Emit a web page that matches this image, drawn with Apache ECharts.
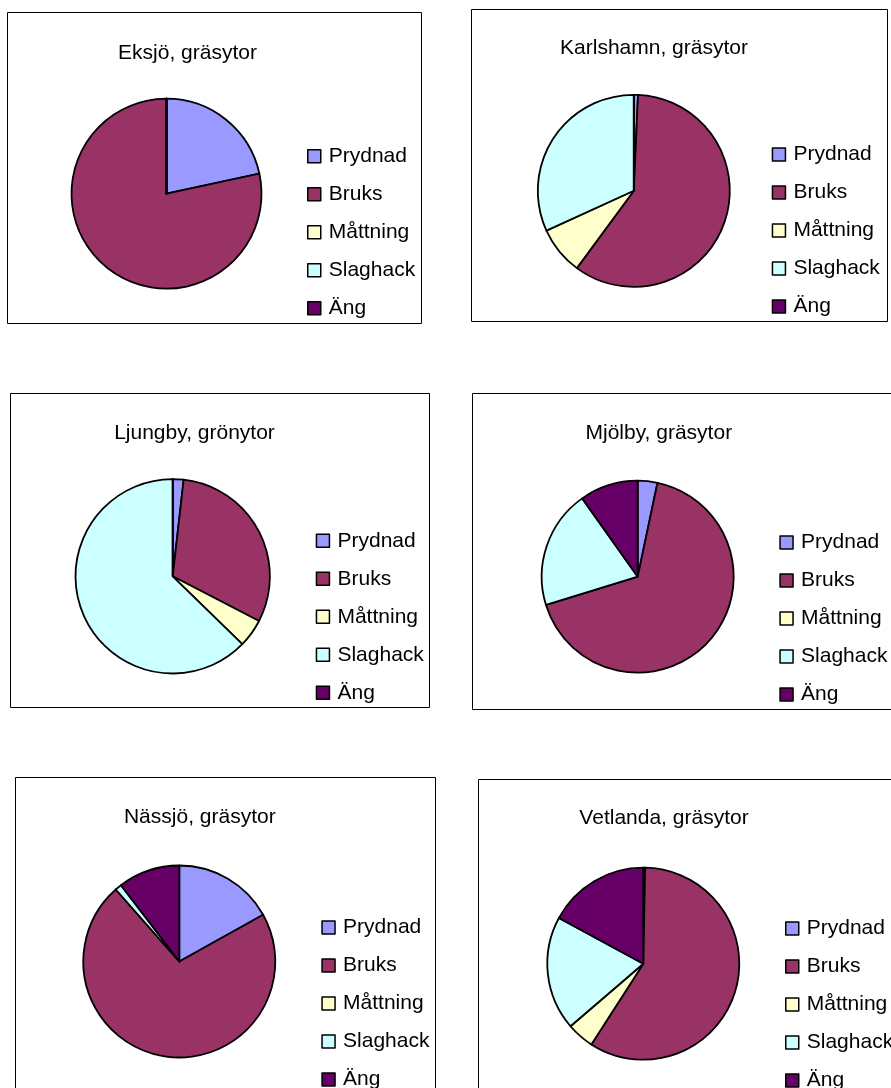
<!DOCTYPE html>
<html>
<head>
<meta charset="utf-8">
<script src="https://cdn.jsdelivr.net/npm/echarts@6/dist/echarts.min.js"></script>
<style>
  html, body { margin: 0; padding: 0; background: #fff; }
  #chart { width: 891px; height: 1088px; }
</style>
</head>
<body>
<div id="chart"></div>
<script>
// Shared categories and palette for all six municipality pies
const categories = ['Prydnad', 'Bruks', 'Måttning', 'Slaghack', 'Äng'];
const palette = ['#9999FF', '#993366', '#FFFFCC', '#CCFFFF', '#660066'];

const chartTitles = [
  'Eksjö, gräsytor',
  'Karlshamn, gräsytor',
  'Ljungby, grönytor',
  'Mjölby, gräsytor',
  'Nässjö, gräsytor',
  'Vetlanda, gräsytor'
];

// Share of grass area per category (%)
const eksjo     = [21.6, 78.4, 0,   0,    0];
const karlshamn = [0.7,  59.4, 8.1, 31.8, 0];
const ljungby   = [1.8,  30.8, 4.7, 62.7, 0];
const mjolby    = [3.3,  66.9, 0,   19.9, 9.8];
const nassjo    = [16.9, 71.6, 0,   1.1,  10.4];
const vetlanda  = [0.3,  58.8, 4.6, 19.2, 17.1];

const townValues = [eksjo, karlshamn, ljungby, mjolby, nassjo, vetlanda];

// Panel layout: frame, pie centre/radius, title anchor, legend anchor
const panels = [
  { box: [7.5, 12.5, 414, 311],   center: [166.5, 193.7], r: 95,   title: [187.5, 59.3],  legend: [307, 156.2] },
  { box: [471.5, 9.5, 416, 312],  center: [633.8, 190.8], r: 96,   title: [654, 55],      legend: [771.7, 154.5] },
  { box: [10.5, 393.5, 419, 314], center: [172.7, 576.3], r: 97.2, title: [194.5, 439.3], legend: [315.7, 540.8] },
  { box: [472.5, 393.5, 430, 316],center: [637.7, 576.7], r: 96,   title: [658.8, 439.3], legend: [779.3, 542.5] },
  { box: [15.5, 777.5, 420, 330], center: [179.3, 961.5], r: 96,   title: [199.8, 823.3], legend: [321.3, 927.5] },
  { box: [478.5, 779.5, 430, 330],center: [643.3, 963.7], r: 96,   title: [664, 825],     legend: [785, 928.5] }
];

const FONT = '"Liberation Sans", Arial, sans-serif';
const FS = 21;
const ROW = 38;

const chart = echarts.init(document.getElementById('chart'), null, { renderer: 'canvas' });

const titles = [];
const legends = [];
const series = [];
const frames = [];

panels.forEach((p, i) => {
  frames.push({
    type: 'rect',
    shape: { x: p.box[0], y: p.box[1], width: p.box[2], height: p.box[3] },
    style: { fill: 'none', stroke: '#000', lineWidth: 1 },
    silent: true,
    z: 0
  });
  titles.push({
    text: chartTitles[i],
    left: p.title[0],
    top: p.title[1] - 16.8,
    textAlign: 'center',
    padding: 0,
    textStyle: { fontFamily: FONT, fontSize: FS, fontWeight: 'normal', color: '#000', lineHeight: FS }
  });
  legends.push({
    data: categories,
    orient: 'vertical',
    left: p.legend[0],
    top: p.legend[1] - FS / 2,
    width: 200,
    height: 260,
    padding: 0,
    icon: 'rect',
    itemWidth: 13,
    itemHeight: 13,
    itemGap: ROW - FS,
    selectedMode: false,
    itemStyle: { borderColor: '#000', borderWidth: 1.5 },
    textStyle: { fontFamily: FONT, fontSize: FS, lineHeight: FS, color: '#000', padding: [0, 0, 0, 3] }
  });
  series.push({
    type: 'pie',
    center: p.center,
    radius: p.r,
    startAngle: 90,
    clockwise: true,
    silent: true,
    avoidLabelOverlap: false,
    label: { show: false },
    labelLine: { show: false },
    emphasis: { disabled: true },
    itemStyle: { borderColor: '#000', borderWidth: 1.8 },
    data: categories.map((name, k) => ({ name: name, value: townValues[i][k] }))
  });
});

chart.setOption({
  animation: false,
  backgroundColor: '#fff',
  color: palette,
  title: titles,
  legend: legends,
  series: series,
  graphic: { elements: frames }
});
</script>
</body>
</html>
